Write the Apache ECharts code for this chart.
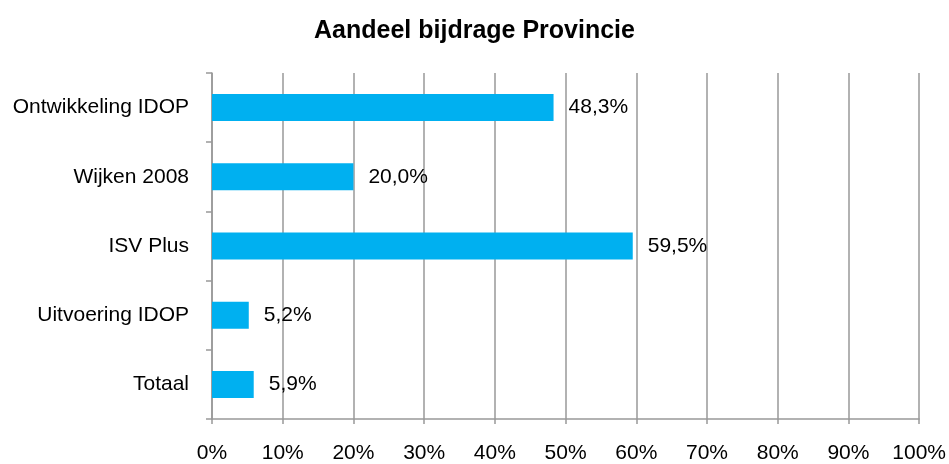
<!DOCTYPE html>
<html>
<head>
<meta charset="utf-8">
<script src="https://cdn.jsdelivr.net/npm/echarts@6/dist/echarts.min.js"></script>
<style>html,body{margin:0;padding:0;background:#fff}#c{width:949px;height:464px}</style>
</head>
<body>
<div id="c"></div>
<script>
var categories = ['Ontwikkeling IDOP', 'Wijken 2008', 'ISV Plus', 'Uitvoering IDOP', 'Totaal'];
var values = [48.3, 20.0, 59.5, 5.2, 5.9];
var xTicks = [0, 10, 20, 30, 40, 50, 60, 70, 80, 90, 100];

var chart = echarts.init(document.getElementById('c'));
var font = 'Liberation Sans, Arial, sans-serif';
chart.setOption({
  animation: false,
  title: {
    text: 'Aandeel bijdrage Provincie',
    left: 'center', top: 14,
    textStyle: { fontFamily: font, fontSize: 25, fontWeight: 'bold', color: '#000' }
  },
  grid: { left: 212, right: 29, top: 73, bottom: 44, containLabel: false },
  xAxis: {
    type: 'value', min: 0, max: 100, interval: 10,
    axisLine: { show: true, lineStyle: { color: '#999', width: 1.5 } },
    axisTick: { show: true, length: 5, lineStyle: { color: '#999', width: 1.5 } },
    splitLine: { show: true, lineStyle: { color: '#999', width: 1.5 } },
    axisLabel: { formatter: function (v) { return xTicks.indexOf(v) >= 0 ? v + '%' : ''; },
      color: '#000', fontFamily: font, fontSize: 21, margin: 24 }
  },
  yAxis: {
    type: 'category', data: categories, inverse: true,
    axisLine: { show: true, lineStyle: { color: '#999', width: 1.5 } },
    axisTick: { show: true, length: 6, inside: false, alignWithLabel: false, lineStyle: { color: '#999', width: 1.5 } },
    axisLabel: { color: '#000', fontFamily: font, fontSize: 21, margin: 23 }
  },
  series: [{
    type: 'bar', data: values, barWidth: 27,
    itemStyle: { color: '#00b0f0' },
    label: { show: true, position: 'right', distance: 15, color: '#000', fontFamily: font, fontSize: 21,
      formatter: function (p) { return p.value.toFixed(1).replace('.', ',') + '%'; } }
  }]
});
</script>
</body>
</html>
